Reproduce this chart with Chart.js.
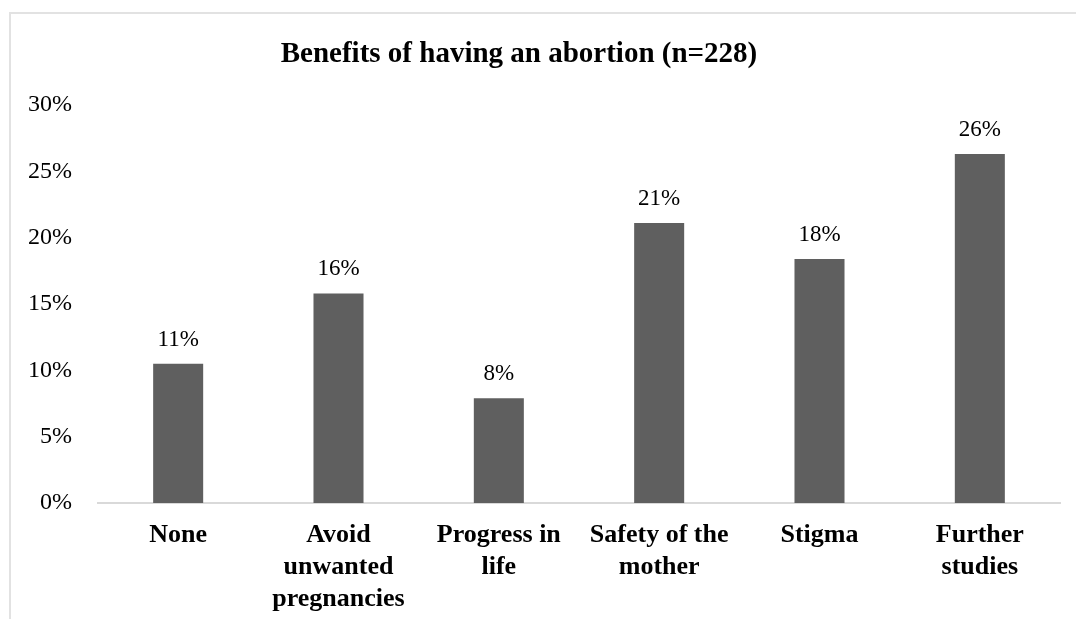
<!DOCTYPE html>
<html>
<head>
<meta charset="utf-8">
<script src="https://cdn.jsdelivr.net/npm/chart.js@4.4.1/dist/chart.umd.min.js"></script>
<style>
  html, body { margin: 0; padding: 0; background: #fff; overflow: hidden; }
  #wrap { position: relative; width: 1076px; height: 619px; }
  #frame {
    position: absolute; left: 9px; top: 12px;
    width: 1200px; height: 800px;
    border: 2px solid #e2e2e2; box-sizing: border-box;
  }
  canvas { position: absolute; left: 0; top: 0; }
</style>
</head>
<body>
<div id="wrap">
  <div id="frame"></div>
  <canvas id="chart-benefits" width="1076" height="619"></canvas>
</div>
<script>
const chartTitle = "Benefits of having an abortion (n=228)";
const categories = [
  "None",
  ["Avoid", "unwanted", "pregnancies"],
  ["Progress in", "life"],
  ["Safety of the", "mother"],
  "Stigma",
  ["Further", "studies"]
];
// share of respondents, in percent
const shares = [10.5, 15.8, 7.9, 21.1, 18.4, 26.3];
const yTicks = [0, 5, 10, 15, 20, 25, 30];

const serif = "'Liberation Serif', 'Times New Roman', serif";

// value labels above each bar
const barLabels = {
  id: "barLabels",
  afterDatasetsDraw(chart) {
    const ctx = chart.ctx;
    const meta = chart.getDatasetMeta(0);
    ctx.save();
    ctx.font = "23px " + serif;
    ctx.fillStyle = "#000";
    ctx.textAlign = "center";
    ctx.textBaseline = "middle";
    meta.data.forEach((bar, i) => {
      ctx.fillText(Math.round(shares[i]) + "%", bar.x, bar.y - 24);
    });
    ctx.restore();
  }
};

// bold title, sits a little left of the plot centre
const chartHeading = {
  id: "chartHeading",
  afterDraw(chart) {
    const ctx = chart.ctx;
    ctx.save();
    ctx.font = "bold 29px " + serif;
    ctx.fillStyle = "#000";
    ctx.textAlign = "center";
    ctx.textBaseline = "middle";
    ctx.fillText(chartTitle, chart.chartArea.left + 421, 55);
    ctx.restore();
  }
};

new Chart(document.getElementById("chart-benefits"), {
  type: "bar",
  data: {
    labels: categories,
    datasets: [{
      data: shares,
      backgroundColor: "#5f5f5f",
      borderWidth: 0,
      categoryPercentage: 1,
      barPercentage: 0.312
    }]
  },
  options: {
    responsive: false,
    animation: false,
    layout: { padding: { top: 105, right: 16, bottom: 0, left: 0 } },
    plugins: {
      legend: { display: false },
      title: { display: false },
      tooltip: { enabled: false }
    },
    scales: {
      x: {
        grid: { display: false, drawTicks: false },
        border: { display: true, color: "#d9d9d9", width: 2 },
        ticks: {
          color: "#000",
          padding: 16,
          maxRotation: 0,
          autoSkip: false,
          font: { family: serif, size: 26, weight: "bold", lineHeight: 1.23 }
        },
        afterFit: scale => { scale.height = 116; }
      },
      y: {
        min: 0,
        max: 30,
        afterBuildTicks: scale => { scale.ticks = yTicks.map(v => ({ value: v })); },
        grid: { display: false, drawTicks: false },
        border: { display: false },
        ticks: {
          color: "#000",
          padding: 26,
          font: { family: serif, size: 24 },
          callback: v => v + "%"
        },
        afterFit: scale => { scale.width = 98; }
      }
    }
  },
  plugins: [barLabels, chartHeading]
});
</script>
</body>
</html>
